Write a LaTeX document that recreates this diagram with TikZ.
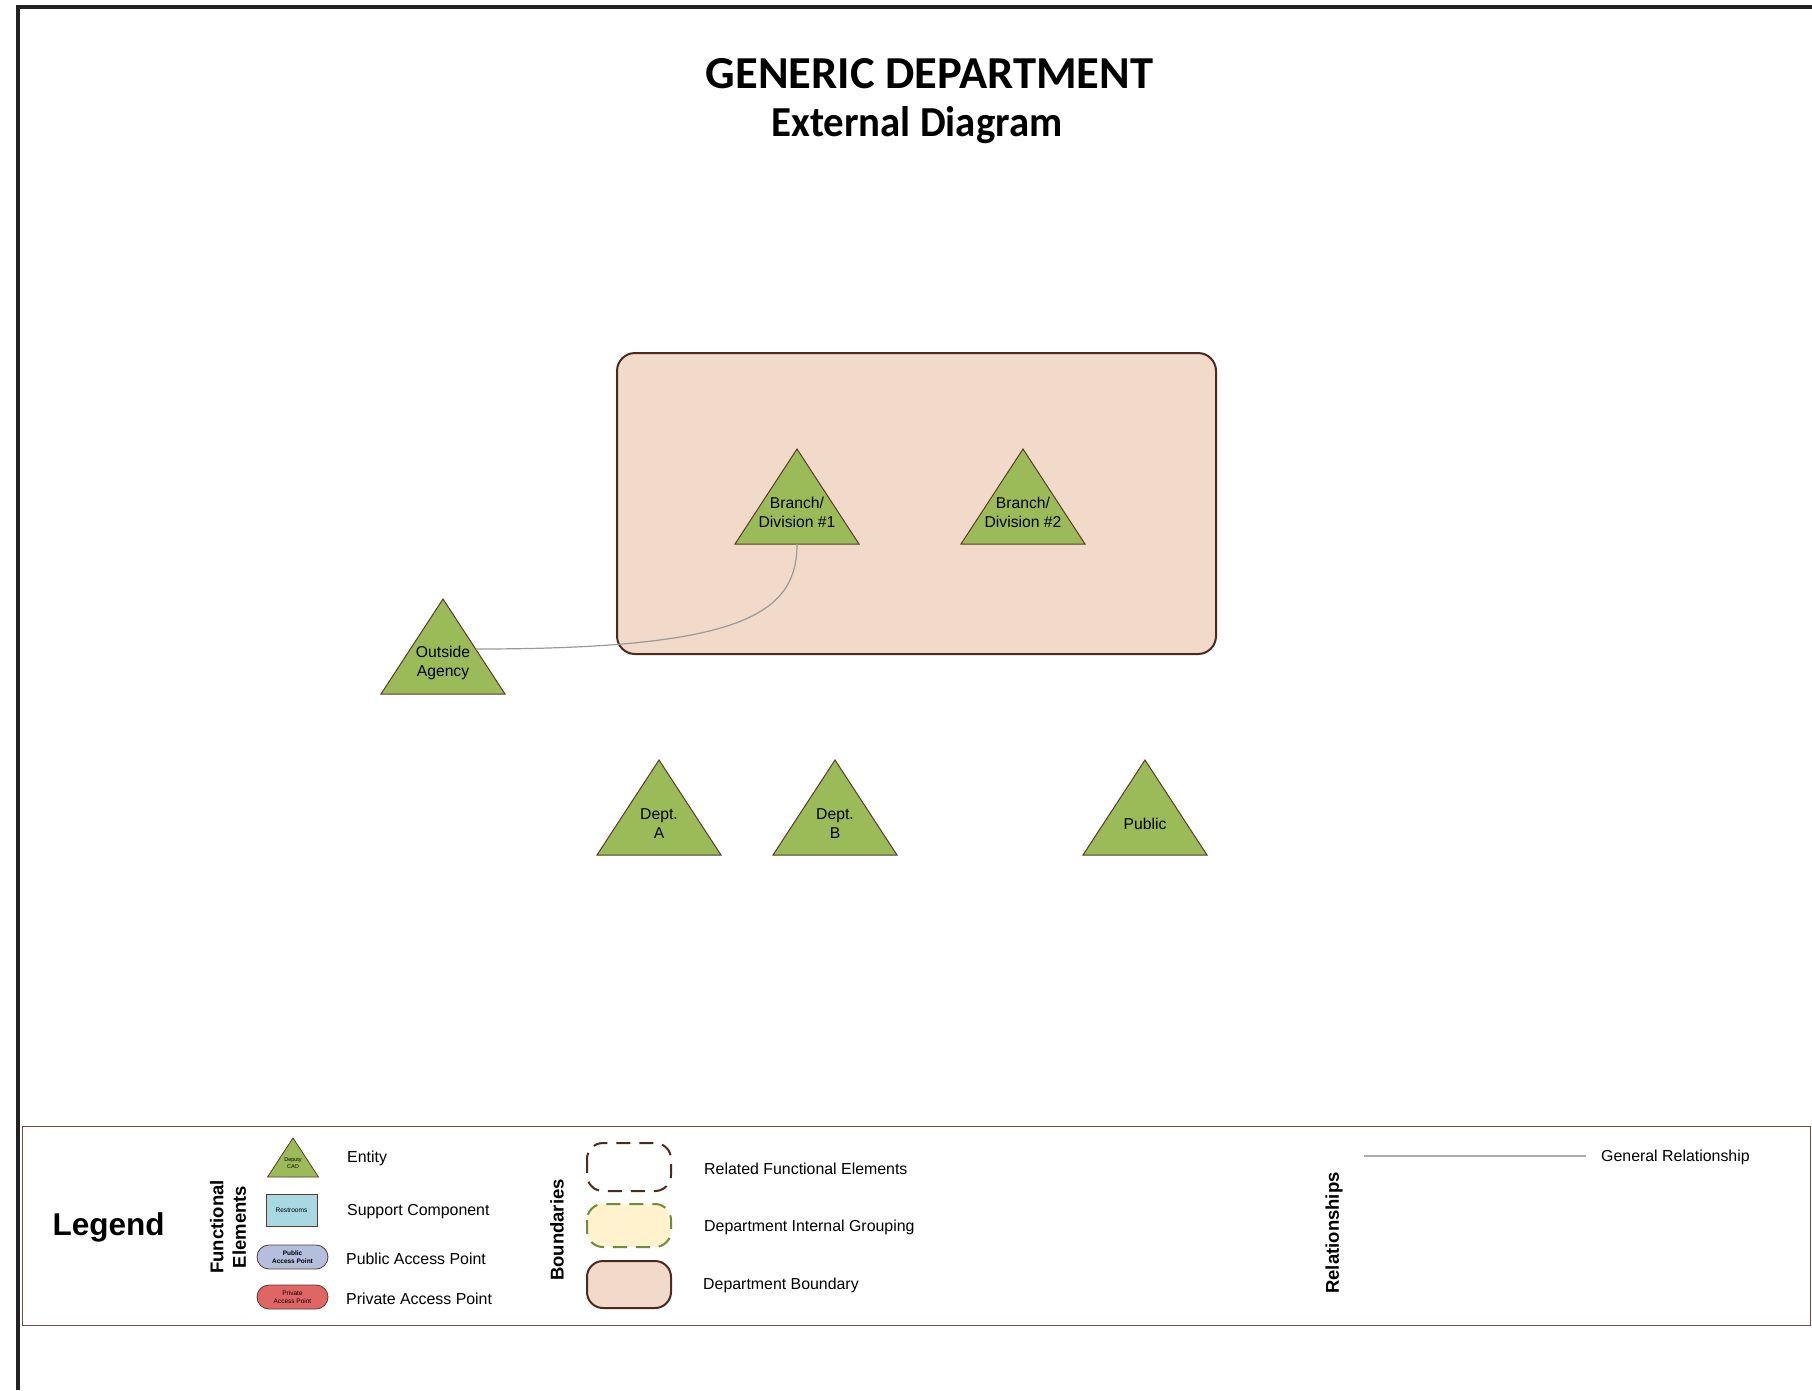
\documentclass[tikz,border=0pt]{standalone}
\usepackage{fontspec}
\usepackage{graphicx}
\setmainfont{Liberation Sans}
\newfontfamily\titlefont{Carlito}
\usetikzlibrary{calc}
\definecolor{framecol}{HTML}{222222}
\definecolor{entgreen}{HTML}{9BBB59}
\definecolor{entline}{HTML}{5B3A29}
\definecolor{deptfill}{HTML}{F2DACA}
\definecolor{deptline}{HTML}{4E2A1E}
\definecolor{restblue}{HTML}{A9D8E3}
\definecolor{pubfill}{HTML}{B4BEDD}
\definecolor{privfill}{HTML}{E06666}
\definecolor{grpfill}{HTML}{FFF2CC}
\definecolor{grpline}{HTML}{6B8E3A}
\definecolor{relline}{HTML}{999999}
\definecolor{legline}{HTML}{6B4C45}
\tikzset{
  entshape/.style={fill=entgreen, draw=entline, line width=1pt, line join=miter},
  enttext/.style={align=center, inner sep=0pt, font=\fontsize{15.7}{19}\selectfont},
  deptbound/.style={fill=deptfill, draw=deptline, line width=2pt, rounded corners=18pt},
  rel/.style={draw=relline, line width=1.2pt},
  legendbox/.style={draw=legline, line width=1pt},
  legtext/.style={anchor=west, inner sep=0pt, font=\fontsize{15.9}{18}\selectfont},
  legtitle/.style={rotate=90, align=center, inner sep=0pt, font=\bfseries\fontsize{18.5}{22.5}\selectfont},
  tinytext/.style={align=center, inner sep=0pt},
}
\newcommand\entity[4]{%
  \draw[entshape] (#2,#3) -- ++(62,95) -- ++(-124,0) -- cycle;
  \coordinate (#1-s) at (#2,#3+95);
  \node[enttext] (#1) at (#2,#3+63.5) {#4};
}
\begin{document}
\begin{tikzpicture}[x=1pt,y=-1pt]
\useasboundingbox (0,0) rectangle (1812,1390);
\fill[white] (0,0) rectangle (1812,1390);
% frame
\draw[framecol, line width=4pt, line join=miter] (18,1390) -- (18,7) -- (1812,7);

% title
\node[anchor=base, inner sep=0pt] (title) at (929.5,88) {\resizebox{447pt}{30pt}{\titlefont\bfseries GENERIC DEPARTMENT}};
\node[anchor=base, inner sep=0pt] (subtitle) at (917,136) {\resizebox{291pt}{30pt}{\titlefont\bfseries External Diagram}};

% department boundary
\draw[deptbound] (617,353) rectangle (1216,654);

% entities
\entity{b1}{797}{449}{Branch/\\Division \#1}
\entity{b2}{1023}{449}{Branch/\\Division \#2}
\entity{oa}{443}{599}{Outside\\Agency}
\entity{da}{659}{760}{Dept.\\A}
\entity{db}{835}{760}{Dept.\\B}
\entity{pub}{1145}{760}{Public}

% relationship
\coordinate (oa-e) at (476,649);
\draw[rel] (oa-e) .. controls (740,649) and (797,615) .. (b1-s);

% legend
\draw[legendbox] (22,1126) rectangle (1810,1325);
\node[anchor=base, inner sep=0pt, font=\bfseries\fontsize{31.5}{31.5}\selectfont] (lg) at (108.7,1235) {Legend};
\node[legtitle] (fe) at (228,1227) {Functional\\Elements};

\draw[entshape, line width=0.8pt] (293,1138) -- (318.5,1177) -- (267.5,1177) -- cycle;
\node[tinytext, font=\fontsize{5.5}{7}\selectfont] (cao) at (293,1163.5) {Deputy\\CAO};
\node[legtext] (l1) at (347,1158.5) {Entity};

\draw[fill=restblue, draw=entline, line width=0.8pt] (266,1194) rectangle (317,1226);
\node[tinytext, font=\fontsize{6.6}{8}\selectfont] (rr) at (291.5,1210) {Restrooms};
\node[legtext] (l2) at (347,1211.5) {Support Component};

\draw[fill=pubfill, draw=entline, line width=0.8pt, rounded corners=12pt] (257,1245) rectangle (328,1269);
\node[tinytext, font=\bfseries\fontsize{6.5}{8}\selectfont] (pap) at (292.5,1257) {Public\\Access Point};
\node[legtext] (l3) at (346,1259) {Public Access Point};

\draw[fill=privfill, draw=entline, line width=0.8pt, rounded corners=12pt] (257,1285) rectangle (328,1309);
\node[tinytext, font=\fontsize{6.5}{8}\selectfont] (prap) at (292.5,1297) {Private\\Access Point};
\node[legtext] (l4) at (346,1299) {Private Access Point};

\node[legtitle] (bd) at (557,1230) {Boundaries};
\draw[draw=deptline, line width=2pt, dash pattern=on 14pt off 9pt, rounded corners=16pt, fill=white] (587,1143) rectangle (671,1191);
\node[legtext] (l5) at (704,1168.5) {Related Functional Elements};
\draw[draw=grpline, line width=2pt, dash pattern=on 14pt off 9pt, rounded corners=16pt, fill=grpfill] (587,1204) rectangle (671,1247);
\node[legtext] (l6) at (704,1227.5) {Department Internal Grouping};
\draw[deptbound, rounded corners=16pt] (587,1261) rectangle (671,1308);
\node[legtext] (l7) at (703,1285) {Department Boundary};

\node[legtitle] (rl) at (1334,1233) {Relationships};
\coordinate (gr-a) at (1364,1156);
\coordinate (gr-b) at (1586,1156);
\draw[draw=relline!80, line width=1.6pt] (gr-a) -- (gr-b);
\node[legtext] (l8) at (1601,1157.5) {General Relationship};
\end{tikzpicture}
\end{document}
